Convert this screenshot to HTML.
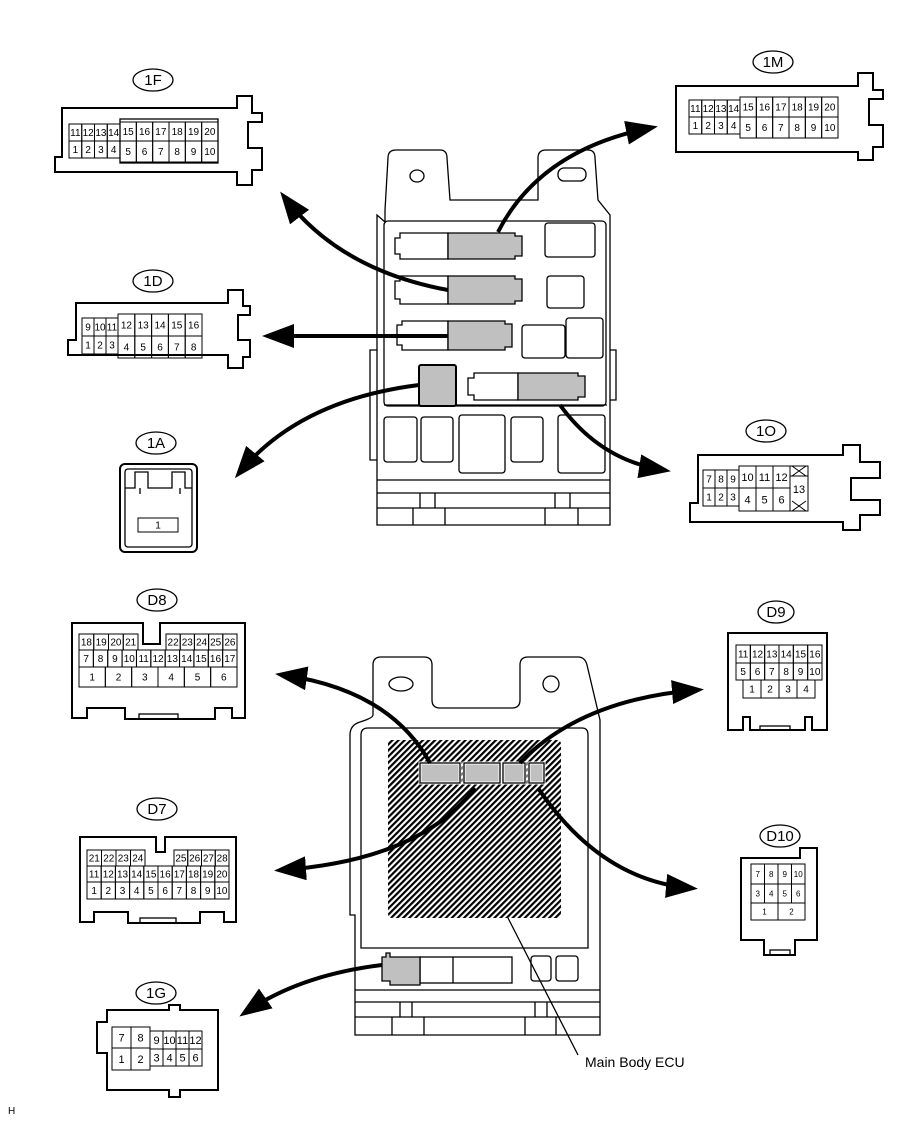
<!DOCTYPE html>
<html><head><meta charset="utf-8"><style>
html,body{margin:0;padding:0;background:#fff}
svg{display:block}
text{font-family:"Liberation Sans",sans-serif;fill:#000}
</style></head><body>
<svg id="s" width="907" height="1122" viewBox="0 0 907 1122" xmlns="http://www.w3.org/2000/svg">
<defs>
<marker id="ah" markerWidth="8" markerHeight="6" refX="6" refY="3" orient="auto" markerUnits="strokeWidth">
<path d="M0,0 L8,3 L0,6 Z" fill="#000"/>
</marker>
<pattern id="hat" width="4.3" height="4.3" patternUnits="userSpaceOnUse" patternTransform="rotate(45)">
<rect width="4.3" height="4.3" fill="#fff"/><rect width="2.2" height="4.3" fill="#000"/>
</pattern>
</defs>
<g fill="none" stroke="#000" stroke-width="1.3" id="g">
<path stroke-width="2" d="M55,157 L62,157 L62,108 L237,108 L237,96 L252,96 L252,113 L262,113 L262,122 L248,122 L248,148 L262,148 L262,170 L252,170 L252,185 L237,185 L237,172 L55,172 Z"/>
<path stroke-width="2" d="M676,139 L676,139 L676,86 L858,86 L858,73 L873,73 L873,90 L883,90 L883,99 L869,99 L869,125 L883,125 L883,147 L873,147 L873,160 L858,160 L858,152 L676,152 Z"/>
<path stroke-width="2" d="M68,355 L68,340 L76,340 L76,303 L228,303 L228,290 L243,290 L243,306 L250,306 L250,315 L238,315 L238,340 L250,340 L250,357 L243,357 L243,368 L228,368 L228,355 Z"/>
<path stroke-width="2" d="M690,522 L690,503 L698,503 L698,455 L843,455 L843,445 L860,445 L860,462 L880,462 L880,478 L851,478 L851,500 L880,500 L880,515 L860,515 L860,530 L843,530 L843,522 Z"/>
<rect x="120" y="464" width="77" height="88" rx="5" stroke-width="2"/>
<rect x="125" y="469" width="67" height="78" rx="3"/>
<path d="M125,488 L135,488 L135,472 L148,472 L148,488 L172,488 L172,472 L185,472 L185,488 L192,488"/>
<path d="M140,488 L140,494 M180,488 L180,494"/>
<path stroke-width="2" d="M72,718 L72,623 L143,623 L143,644 L160,644 L160,623 L245,623 L245,718 L232,718 L232,708 L215,708 L215,719 L125,719 L125,708 L87,708 L87,718 Z"/>
<rect x="139" y="714" width="39" height="5" />
<path stroke-width="2" d="M80,922 L80,837 L156,837 L156,852 L165,852 L165,837 L236,837 L236,922 L224,922 L224,912 L200,912 L200,923 L128,923 L128,912 L94,912 L94,922 Z"/>
<rect x="140" y="918" width="36" height="5"/>
<path stroke-width="2" d="M728,730 L728,633 L827,633 L827,730 L812,730 L812,717 L805,717 L805,730 L750,730 L750,717 L743,717 L743,730 Z"/>
<rect x="760" y="726" width="30" height="4"/>
<path stroke-width="2" d="M741,940 L741,858 L800,858 L800,848 L817,848 L817,940 L795,940 L795,955 L764,955 L764,940 Z"/>
<rect x="770" y="950" width="20" height="5"/>
<path stroke-width="2" d="M107,1010 L169,1010 L169,1005 L180,1005 L180,1010 L218,1010 L218,1090 L180,1090 L180,1097 L169,1097 L169,1090 L107,1090 L107,1053 L97,1053 L97,1022 L107,1022 Z"/>
<ellipse cx="153" cy="80" rx="20" ry="11"/>
<ellipse cx="773" cy="62" rx="20" ry="11"/>
<ellipse cx="153" cy="281" rx="20" ry="11"/>
<ellipse cx="156" cy="443" rx="20" ry="11"/>
<ellipse cx="766" cy="431" rx="20" ry="11"/>
<ellipse cx="157" cy="600" rx="20" ry="11"/>
<ellipse cx="776" cy="612" rx="18" ry="11"/>
<ellipse cx="157" cy="809" rx="20" ry="11"/>
<ellipse cx="780" cy="836" rx="20" ry="11"/>
<ellipse cx="156" cy="993" rx="20" ry="11"/>

<path d="M385,222 L385,210 L388,158 Q388,150 396,150 L440,150 Q447,150 447,158 L450,200 L538,200 L538,158 Q538,150 546,150 L588,150 Q595,150 595,158 L598,200 L610,215 L610,525 L377,525 L377,215 Z"/>
<ellipse cx="417" cy="176" rx="7" ry="6"/>
<rect x="558" y="168" width="28" height="13" rx="6"/>
<rect x="384" y="221" width="222" height="185" rx="4"/>
<path d="M384,405 L607,405 M377,480 L610,480 M377,493 L610,493 M377,508 L610,508"/>
<rect x="545" y="223" width="50" height="34" rx="3"/>
<rect x="547" y="276" width="37" height="32" rx="3"/>
<rect x="522" y="325" width="43" height="33" rx="3"/>
<rect x="566" y="318" width="37" height="40" rx="3"/>
<rect x="384" y="417" width="33" height="45" rx="3"/>
<rect x="421" y="417" width="32" height="45" rx="3"/>
<rect x="459" y="415" width="46" height="58" rx="3"/>
<rect x="511" y="417" width="32" height="45" rx="3"/>
<rect x="558" y="415" width="47" height="58" rx="3"/>
<path d="M413,508 L413,525 M445,508 L445,525 M545,508 L545,525 M578,508 L578,525 M420,493 L420,508 M435,493 L435,508 M555,493 L555,508 M570,493 L570,508"/>
<path d="M377,350 L370,350 L370,460 L377,460 M610,350 L616,350 L616,400 L610,400"/>
<path d="M400,238 L395,238 L395,254 L400,254 L400,259 L448,259 L448,233 L400,233 Z"/>
<path fill="#c0c0c0" d="M448,233 L515,233 L515,236 L522,236 L522,256 L515,256 L515,259 L448,259 Z"/>
<path d="M400,281 L395,281 L395,299 L400,299 L400,304 L448,304 L448,276 L400,276 Z"/>
<path fill="#c0c0c0" d="M448,276 L515,276 L515,279 L522,279 L522,301 L515,301 L515,304 L448,304 Z"/>
<path d="M402,325 L397,325 L397,345 L402,345 L402,350 L448,350 L448,321 L402,321 Z"/>
<path fill="#c0c0c0" d="M448,321 L505,321 L505,324 L512,324 L512,347 L505,347 L505,350 L448,350 Z"/>
<path d="M474,378 L468,378 L468,395 L474,395 L474,400 L518,400 L518,373 L474,373 Z"/>
<path fill="#c0c0c0" d="M518,373 L578,373 L578,376 L585,376 L585,397 L578,397 L578,400 L518,400 Z"/>
<rect x="419" y="365" width="37" height="41" rx="2" fill="#c0c0c0" stroke-width="2"/>

<path d="M373,715 L373,665 Q373,657 381,657 L424,657 Q432,657 432,665 L432,700 Q432,708 440,708 L512,708 Q520,708 520,700 L520,665 Q520,657 528,657 L578,657 Q585,657 587,665 L600,720 L600,1035 L355,1035 L355,915 L350,915 L350,735 Q350,725 360,722 Q373,718 373,715"/>
<ellipse cx="401" cy="684" rx="12" ry="7"/>
<circle cx="551" cy="684" r="8"/>
<path d="M361,948 L361,735 Q361,728 368,728 L582,728 Q588,728 588,735 L588,948 Z"/>
<rect x="388" y="740" width="173" height="178" rx="4" fill="url(#hat)" stroke="none"/>
<path d="M355,990 L600,990 M355,1002 L600,1002 M355,1017 L600,1017 M392,1017 L392,1035 M424,1017 L424,1035 M525,1017 L525,1035 M556,1017 L556,1035 M400,1002 L400,1017 M412,1002 L412,1017 M535,1002 L535,1017 M547,1002 L547,1017"/>
<rect x="531" y="956" width="20" height="25" rx="3"/>
<rect x="556" y="956" width="22" height="25" rx="3"/>
<rect x="420" y="957" width="92" height="26"/>
<path d="M453,957 L453,983"/>
<path fill="#c0c0c0" d="M382,957 L386,957 L386,953 L390,953 L390,957 L420,957 L420,985 L390,985 L390,981 L382,981 Z"/>
<rect x="420" y="763" width="40" height="20" fill="#c0c0c0" stroke="#fff" stroke-width="3"/>
<rect x="464" y="763" width="36" height="20" fill="#c0c0c0" stroke="#fff" stroke-width="3"/>
<rect x="503" y="763" width="22" height="20" fill="#c0c0c0" stroke="#fff" stroke-width="3"/>
<rect x="529" y="763" width="15" height="20" fill="#c0c0c0" stroke="#fff" stroke-width="3"/>
<rect x="420" y="763" width="40" height="20"/>
<rect x="464" y="763" width="36" height="20"/>
<rect x="503" y="763" width="22" height="20"/>
<rect x="529" y="763" width="15" height="20"/>
<path d="M508,918 L578,1055"/>
</g>
<g fill="none" stroke="#000" stroke-width="4" marker-end="url(#ah)">
<path d="M498,232 Q540,150 650,128"/>
<path d="M448,290 Q340,270 285,198"/>
<path d="M448,336 L270,336"/>
<path d="M419,385 Q300,400 240,472"/>
<path d="M560,405 Q600,460 663,470"/>
<path d="M430,763 Q390,690 283,675"/>
<path d="M475,788 Q420,860 282,870"/>
<path d="M520,763 Q580,700 696,690"/>
<path d="M538,788 Q600,880 690,888"/>
<path d="M382,965 Q300,975 246,1012"/>
</g>
<g id="t" font-size="12">
<text x="153" y="85" text-anchor="middle" font-size="15">1F</text>
<text x="773" y="67" text-anchor="middle" font-size="15">1M</text>
<text x="153" y="286" text-anchor="middle" font-size="15">1D</text>
<text x="156" y="448" text-anchor="middle" font-size="15">1A</text>
<text x="766" y="436" text-anchor="middle" font-size="15">1O</text>
<text x="157" y="605" text-anchor="middle" font-size="15">D8</text>
<text x="776" y="617" text-anchor="middle" font-size="15">D9</text>
<text x="157" y="814" text-anchor="middle" font-size="15">D7</text>
<text x="780" y="841" text-anchor="middle" font-size="15">D10</text>
<text x="156" y="998" text-anchor="middle" font-size="15">1G</text>
<text x="585" y="1067" font-size="14">Main Body ECU</text>
<text x="8" y="1114" font-size="10">H</text>
</g>
</svg>
<script>
var s=document.getElementById('s');var NS='http://www.w3.org/2000/svg';
function el(n,a,txt){var e=document.createElementNS(NS,n);for(var k in a)e.setAttribute(k,a[k]);if(txt!=null)e.textContent=txt;s.appendChild(e);return e;}
function cells(x,y,w,h,labels,fs){var n=labels.length,cw=w/n;for(var i=0;i<n;i++){
el('rect',{x:x+i*cw,y:y,width:cw,height:h,fill:'none',stroke:'#000','stroke-width':1});
if(labels[i]!=='')el('text',{x:x+i*cw+cw/2,y:y+h/2+fs*0.36,'text-anchor':'middle','font-size':fs,'font-family':'Liberation Sans'},labels[i]);}}
function rg(a,b){var r=[];for(var i=a;i<=b;i++)r.push(String(i));return r;}
el('rect',{x:120,y:119,width:98,height:44,fill:'none',stroke:'#000','stroke-width':1.3});
cells(69,124,51,17,rg(11,14),10);cells(69,141,51,17,rg(1,4),10);
cells(120,122,98,19,rg(15,20),10);cells(120,141,98,21,rg(5,10),10);
cells(689,100,51,17,rg(11,14),10);cells(689,117,51,17,rg(1,4),10);
cells(740,97,98,20,rg(15,20),10);cells(740,117,98,21,rg(5,10),10);
cells(82,318,36,18,rg(9,11),10);cells(82,336,36,18,rg(1,3),10);
cells(118,314,84,22,rg(12,16),10);cells(118,336,84,22,rg(4,8),10);
cells(703,470,36,18,rg(7,9),10);cells(703,488,36,18,rg(1,3),10);
cells(739,466,51,22,rg(10,12),11);cells(739,488,51,23,rg(4,6),11);
el('rect',{x:790,y:466,width:18,height:45,fill:'none',stroke:'#000'});
el('text',{x:799,y:493,'text-anchor':'middle','font-size':11},'13');
[[466,476],[501,511]].forEach(function(p){el('path',{d:'M790,'+p[1]+' L808,'+p[1]+' M792,'+p[0]+' L806,'+p[1]+' M806,'+p[0]+' L792,'+p[1],stroke:'#000',fill:'none'});});
cells(138,518,40,14,['1'],10);
cells(79,634,59,16,rg(18,21),10);cells(166,634,71,16,rg(22,26),10);
cells(79,650,158,17,rg(7,17),10);cells(79,667,158,20,rg(1,6),10);
cells(87,850,58,16,rg(21,24),10);cells(174,850,55,16,rg(25,28),10);
cells(87,866,142,16,rg(11,20),10);cells(87,882,142,17,rg(1,10),10);
cells(736,645,86,18,rg(11,16),10);cells(736,663,86,17,rg(5,10),10);cells(743,680,72,18,rg(1,4),10);
cells(751,864,54,20,rg(7,10),8);cells(751,884,54,19,rg(3,6),8);cells(751,903,54,17,['1','2'],8);
cells(112,1027,38,21,['7','8'],11);cells(112,1048,38,22,['1','2'],11);
cells(150,1031,52,18,rg(9,12),11);cells(150,1049,52,17,rg(3,6),11);
</script>
</body></html>
